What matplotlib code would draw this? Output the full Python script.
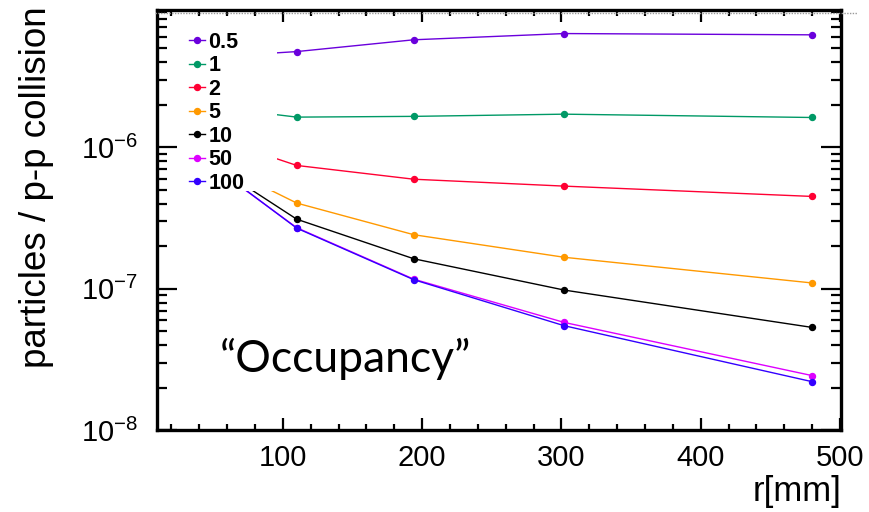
import matplotlib
matplotlib.use('Agg')
import matplotlib.pyplot as plt
from matplotlib.patches import Rectangle
from matplotlib.lines import Line2D
from matplotlib.ticker import LogLocator, MultipleLocator, NullFormatter

plt.rcParams['font.family'] = ['Liberation Sans', 'DejaVu Sans']
plt.rcParams['mathtext.fontset'] = 'custom'
plt.rcParams['mathtext.rm'] = 'Liberation Sans'
plt.rcParams['mathtext.it'] = 'Liberation Sans:italic'
plt.rcParams['mathtext.bf'] = 'Liberation Sans:bold'

# radius of the layers [mm]; the first point sits under the legend box
radius = [50, 110, 194, 302, 480]

# particles per p-p collision for each threshold
occ_0p5 = [4.34e-6, 4.73e-6, 5.73e-6, 6.34e-6, 6.21e-6]
occ_1 = [1.92e-6, 1.63e-6, 1.65e-6, 1.71e-6, 1.62e-6]
occ_2 = [1.17e-6, 7.43e-7, 5.94e-7, 5.31e-7, 4.49e-7]
occ_5 = [7.9e-7, 4.03e-7, 2.41e-7, 1.67e-7, 1.10e-7]
occ_10 = [7.5e-7, 3.10e-7, 1.63e-7, 9.8e-8, 5.34e-8]
occ_50 = [7.3e-7, 2.70e-7, 1.17e-7, 5.79e-8, 2.44e-8]
occ_100 = [7.4e-7, 2.68e-7, 1.16e-7, 5.49e-8, 2.21e-8]

labels = ['0.5', '1', '2', '5', '10', '50', '100']
colors = ['#6a00dc', '#009966', '#ff0033', '#ff9900', '#000000', '#dd00ff', '#3300ff']


def make_plot():
    fig = plt.figure(figsize=(8.69, 5.12), dpi=100)
    ax = fig.add_axes([0.1812, 0.1592, 0.7871, 0.8213])

    series = [occ_0p5, occ_1, occ_2, occ_5, occ_10, occ_50, occ_100]
    for vals, lab, col in zip(series, labels, colors):
        ax.plot(radius, vals, color=col, lw=1.0, marker='o', markersize=4.3,
                label=lab, zorder=3)

    ax.set_yscale('log')
    ax.set_xlim(10, 501)
    ax.set_ylim(1e-8, 9.3e-6)

    ax.xaxis.set_major_locator(MultipleLocator(100))
    ax.xaxis.set_minor_locator(MultipleLocator(20))
    ax.yaxis.set_major_locator(LogLocator(base=10))
    ax.yaxis.set_minor_locator(LogLocator(base=10, subs=range(2, 10)))
    ax.yaxis.set_minor_formatter(NullFormatter())

    # ROOT-like frame: ticks inside on all sides
    ax.tick_params(which='both', direction='in', top=True, right=True,
                   width=1.6, colors='black')
    ax.tick_params(axis='x', which='major', length=8.6, labelsize=21, pad=10)
    ax.tick_params(axis='x', which='minor', length=4.3)
    ax.tick_params(axis='y', which='major', length=14.4, labelsize=21, pad=14)
    ax.tick_params(axis='y', which='minor', length=7.2)
    for sp in ax.spines.values():
        sp.set_linewidth(2.4)

    ax.set_ylabel('particles / p-p collision', fontsize=26.5, loc='top')
    ax.yaxis.set_label_coords(-0.151, 1.008)
    ax.set_xlabel('r[mm]', fontsize=25, loc='right', labelpad=2)

    # white box behind the legend hides the start of the curves
    ax.add_patch(Rectangle((0.037, 0.5696), 0.1375, 0.395, transform=ax.transAxes,
                           facecolor='white', edgecolor='none', zorder=4))
    leg = ax.legend(loc='upper left', bbox_to_anchor=(0.0398, 0.958), frameon=False,
                    handlelength=0.75, handletextpad=0.14, labelspacing=0.115,
                    borderpad=0.2, borderaxespad=0.0,
                    prop={'weight': 'bold', 'size': 15.5})
    leg.set_zorder(5)

    # dotted guide line along the top of the frame
    fig.add_artist(Line2D([155 / 869, 857 / 869], [1 - 13.3 / 512, 1 - 13.3 / 512],
                          transform=fig.transFigure, color='#999999', lw=1.0,
                          linestyle=(0, (1, 1))))

    fig.text(220 / 869, 1 - 371.7 / 512, '\u201cOccupancy\u201d', fontsize=32,
             family='Lato', ha='left', va='baseline')

    fig.savefig('out.png', dpi=100)
    plt.close(fig)


if __name__ == '__main__':
    make_plot()
